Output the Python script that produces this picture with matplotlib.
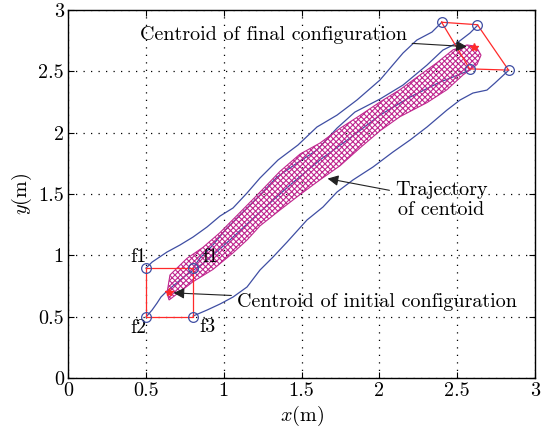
import matplotlib
matplotlib.use("Agg")
import matplotlib.pyplot as plt
from matplotlib.patches import Polygon

plt.rcParams['font.family'] = 'cmr10'
plt.rcParams['mathtext.fontset'] = 'cm'
plt.rcParams['axes.unicode_minus'] = False
plt.rcParams['hatch.linewidth'] = 0.8

# agent trajectories
f1_x = [0.501, 0.540, 0.636, 0.719, 0.803, 0.893, 0.976, 1.060, 1.150, 1.233, 1.349, 1.477,
        1.599, 1.728, 1.856, 2.004, 2.152, 2.241, 2.338, 2.402]
f1_y = [0.896, 0.945, 1.027, 1.084, 1.149, 1.231, 1.320, 1.386, 1.508, 1.630, 1.777, 1.899,
        2.046, 2.143, 2.266, 2.429, 2.649, 2.755, 2.820, 2.901]
f2_x = [0.501, 0.540, 0.572, 0.597, 0.636, 0.751, 0.880, 1.040, 1.233, 1.426, 1.618, 1.811,
        2.004, 2.197, 2.389, 2.505, 2.582]
f2_y = [0.497, 0.554, 0.611, 0.660, 0.709, 0.831, 0.945, 1.125, 1.353, 1.573, 1.777, 1.956,
        2.143, 2.290, 2.412, 2.470, 2.510]
f3_x = [0.803, 0.893, 0.976, 1.060, 1.150, 1.233, 1.317, 1.407, 1.535, 1.638, 1.728, 1.830,
        1.959, 2.087, 2.197, 2.306, 2.434, 2.518, 2.601, 2.691, 2.742, 2.832]
f3_y = [0.505, 0.554, 0.603, 0.660, 0.742, 0.880, 0.986, 1.108, 1.288, 1.394, 1.516, 1.614,
        1.720, 1.842, 1.940, 2.046, 2.184, 2.266, 2.323, 2.347, 2.404, 2.510]
f4_x = [0.803, 0.848, 0.925, 1.021, 1.124, 1.233, 1.342, 1.471, 1.599, 1.728, 1.843, 2.004,
        2.152, 2.306, 2.408, 2.498, 2.582, 2.633]
f4_y = [0.896, 0.978, 1.076, 1.222, 1.353, 1.491, 1.638, 1.752, 1.858, 2.037, 2.168, 2.274,
        2.388, 2.551, 2.673, 2.730, 2.812, 2.877]

# outline of the centroid trajectory band
band_top_x = [0.636, 0.655, 0.764, 0.867, 0.976, 1.105, 1.233, 1.362, 1.490, 1.618, 1.747,
              1.875, 2.004, 2.132, 2.261, 2.370, 2.473, 2.563, 2.620]
band_top_y = [0.693, 0.840, 0.975, 1.065, 1.185, 1.350, 1.515, 1.685, 1.825, 1.915, 2.035,
              2.140, 2.250, 2.350, 2.470, 2.570, 2.675, 2.715, 2.705]
band_bot_x = [0.649, 0.803, 0.931, 1.060, 1.150, 1.233, 1.362, 1.490, 1.618, 1.747, 1.875,
              2.004, 2.132, 2.306, 2.434, 2.537, 2.627, 2.653]
band_bot_y = [0.636, 0.785, 0.885, 1.020, 1.125, 1.240, 1.370, 1.495, 1.615, 1.730, 1.875,
              2.015, 2.130, 2.245, 2.350, 2.470, 2.555, 2.632]

# formations
init_x = [0.5, 0.8, 0.8, 0.5, 0.5]
init_y = [0.9, 0.9, 0.5, 0.5, 0.9]
final_x = [2.40, 2.63, 2.83, 2.58, 2.40]
final_y = [2.90, 2.88, 2.51, 2.52, 2.90]
centroids_x = [0.65, 2.61]
centroids_y = [0.70, 2.70]

ticks = [0, 0.5, 1, 1.5, 2, 2.5, 3]
tick_labels = ['0', '0.5', '1', '1.5', '2', '2.5', '3']

blue = '#3f4ea3'
mag = '#c0288f'
red = '#ff2a2a'

fig = plt.figure(figsize=(5.44, 4.44), dpi=100)
ax = fig.add_axes([0.125, 0.1486, 0.8585, 0.8289])

band = Polygon(list(zip(band_top_x + band_bot_x[::-1], band_top_y + band_bot_y[::-1])),
               closed=True, fill=False, hatch='xxxxxx', edgecolor=mag, lw=0.8, zorder=3)
ax.add_patch(band)

for xs, ys in [(f1_x, f1_y), (f2_x, f2_y), (f3_x, f3_y), (f4_x, f4_y)]:
    ax.plot(xs, ys, color=blue, lw=0.9, zorder=2)

ax.plot(init_x, init_y, color=red, lw=0.9, zorder=4)
ax.plot(final_x, final_y, color=red, lw=0.9, zorder=4)
ax.plot(init_x[:4], init_y[:4], 'o', ms=7, mfc='none', mec=blue, mew=0.9, zorder=5)
ax.plot(final_x[:4], final_y[:4], 'o', ms=7, mfc='none', mec=blue, mew=0.9, zorder=5)
ax.plot(centroids_x, centroids_y, '*', ms=6, color=red, zorder=5)

fs = 14.5
ax.text(0.45, 0.99, 'f1', fontsize=fs, ha='center', va='center')
ax.text(0.45, 0.41, 'f2', fontsize=fs, ha='center', va='center')
ax.text(0.893, 0.415, 'f3', fontsize=fs, ha='center', va='center')
ax.text(0.918, 0.99, 'f1', fontsize=fs, ha='center', va='center')

arrow = dict(arrowstyle='-|>', color='#222222', lw=0.8, mutation_scale=16)
ax.annotate('Centroid of final configuration', xy=(2.58, 2.70), xytext=(0.46, 2.795),
            fontsize=fs, va='center', ha='left', arrowprops=arrow, zorder=6)
ax.annotate('Trajectory\nof centoid', xy=(1.65, 1.63), xytext=(2.10, 1.45),
            fontsize=fs, va='center', ha='left', multialignment='center', arrowprops=arrow)
ax.annotate('Centroid of initial configuration', xy=(0.66, 0.695), xytext=(1.085, 0.62),
            fontsize=fs, va='center', ha='left', arrowprops=arrow)

ax.set_xlim(0, 3)
ax.set_ylim(0, 3)
ax.set_xticks(ticks)
ax.set_xticklabels(tick_labels)
ax.set_yticks(ticks)
ax.set_yticklabels(tick_labels)
ax.tick_params(direction='in', top=True, right=True, labelsize=fs, length=4, pad=3)
ax.grid(True, linestyle=(0, (1, 5)), color='black', lw=0.9)
ax.set_xlabel('$x$(m)', fontsize=fs, labelpad=3)
ax.set_ylabel('$y$(m)', fontsize=fs, labelpad=3)
for s in ax.spines.values():
    s.set_linewidth(1.0)

fig.savefig('out.png', dpi=100)
